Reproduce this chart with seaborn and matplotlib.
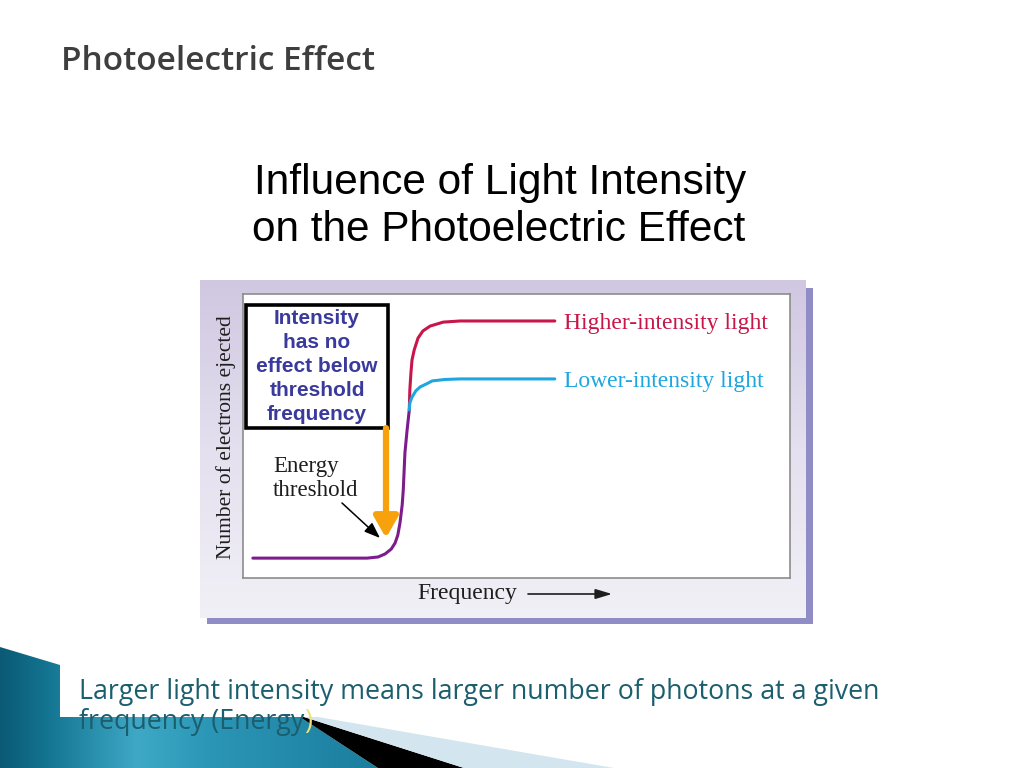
"""Photoelectric effect slide: influence of light intensity"""
import numpy as np
import matplotlib
matplotlib.use("Agg")
import matplotlib.pyplot as plt
import seaborn as sns
from matplotlib.patches import Rectangle, Polygon
from matplotlib.colors import LinearSegmentedColormap

# curve points (frequency, electrons ejected), 0-100 scale
base_x = [1.8, 10.4, 19.6, 22.7, 24.7, 26.0, 27.1, 27.8, 28.3, 28.7, 29.1, 29.3, 29.6, 30.0, 30.4]
base_y = [7.0, 7.0, 7.0, 7.0, 7.4, 8.5, 10.2, 12.3, 15.1, 19.4, 25.7, 31.0, 44.0, 52.1, 59.2]
high_x = [30.4, 30.5, 30.7, 30.9, 31.3, 32.0, 32.9, 34.2, 36.6, 39.7, 47.0, 57.0]
high_y = [59.2, 66.2, 72.2, 76.8, 80.3, 84.5, 87.0, 88.7, 90.1, 90.5, 90.5, 90.5]
low_x = [30.4, 30.5, 30.9, 31.6, 32.4, 33.5, 34.6, 36.9, 39.7, 57.0]
low_y = [59.2, 61.6, 63.7, 65.9, 67.3, 68.3, 69.4, 69.9, 70.1, 70.1]

curve_labels = ["Higher-intensity light", "Lower-intensity light"]
box_lines = ["Intensity", "has no", "effect below", "threshold", "frequency"]
slide_title = "Photoelectric Effect"
chart_title = ["Influence of Light Intensity", "on the Photoelectric Effect"]
caption = ["Larger light intensity means larger number of photons at a given",
           "frequency (Energy"]

PURPLE = "#7d1c8c"
RED = "#c8164a"
BLUE = "#1ea6e0"
TEAL_TXT = "#1b5e6e"
SERIF = ["Liberation Serif", "DejaVu Serif"]
SANS = ["Liberation Sans", "DejaVu Sans"]

sns.set_style("white")
plt.rcParams["font.family"] = ["Open Sans", "DejaVu Sans"]

W, H = 1024, 768
fig = plt.figure(figsize=(W / 100, H / 100), dpi=100)

# background layer in pixel coordinates
bg = fig.add_axes([0, 0, 1, 1], zorder=0)
bg.set_axis_off()

# slide title
bg.text(61, 62, slide_title, ha="left", va="center", fontsize=24,
        fontweight="semibold", color="#3e3e3e",
        family=["Open Sans", "DejaVu Sans"])

# chart title
bg.text(500, 183, chart_title[0], ha="center", va="center", fontsize=30.5,
        color="black", family=SANS)
bg.text(499, 230, chart_title[1], ha="center", va="center", fontsize=30.5,
        color="black", family=SANS)

# panel shadow + gradient panel
bg.add_patch(Rectangle((207, 288), 606, 336, fc="#8f8cc6", ec="none", zorder=1))
pcm = LinearSegmentedColormap.from_list("panel", ["#d0c7e1", "#e4e0ef", "#f1f0f6"])
bg.imshow(np.linspace(0, 1, 256).reshape(-1, 1), cmap=pcm, aspect="auto",
          extent=(200, 806, 618, 280), zorder=2)

# y label and frequency label with arrow
bg.text(226, 437, "Number of electrons ejected", rotation=90, ha="center",
        va="center", fontsize=15.5, color="#1e1e1e", family=SERIF, zorder=3)
bg.text(417, 594, "Frequency", ha="left", va="center", fontsize=17,
        color="#1e1e1e", family=SERIF, zorder=3)
bg.annotate("", xy=(612, 594), xytext=(528, 594), zorder=3,
            arrowprops=dict(arrowstyle="-|>,head_width=0.3,head_length=1.0",
                            color="#1e1e1e", lw=1.2, shrinkA=0, shrinkB=0,
                            mutation_scale=10))

# bottom-left decoration
teal = Polygon([(0, 647), (60, 665), (60, 717), (300, 717), (378, 768), (0, 768)],
               closed=True, fc="none", ec="none")
bg.add_patch(teal)
tcm = LinearSegmentedColormap.from_list(
    "teal", [(0, "#0a5a75"), (0.12, "#137591"), (0.35, "#3ea8c6"),
             (0.55, "#2b95b6"), (1, "#1a7c9c")])
im = bg.imshow(np.linspace(0, 1, 256).reshape(1, -1), cmap=tcm, aspect="auto",
               extent=(0, 390, 768, 645), zorder=2)
im.set_clip_path(teal)
bg.add_patch(Polygon([(300, 717), (378, 768), (464, 768), (304, 717)],
                     closed=True, fc="black", ec="none", zorder=3))
bg.add_patch(Polygon([(304, 717), (464, 768), (614, 768), (318, 717)],
                     closed=True, fc="#d3e5ee", ec="none", zorder=3))

# caption
bg.text(79, 692, caption[0], ha="left", va="center", fontsize=19.3,
        color=TEAL_TXT, zorder=5)
t2 = bg.text(79, 722, caption[1], ha="left", va="center", fontsize=19.3,
             color=TEAL_TXT, zorder=5)
bg.annotate(")", xy=(1, 0.5), xycoords=t2, ha="left", va="center",
            fontsize=19.3, color="#ece27a", zorder=5)

bg.set_xlim(0, W)
bg.set_ylim(H, 0)

# plot area
ax = fig.add_axes([243 / W, 1 - 578 / H, 547 / W, 284 / H], zorder=2)
ax.set_facecolor("white")
sns.lineplot(x=base_x, y=base_y, ax=ax, color=PURPLE, lw=2.2,
             estimator=None, sort=False)
sns.lineplot(x=high_x, y=high_y, ax=ax, color=RED, lw=2.2,
             estimator=None, sort=False)
sns.lineplot(x=low_x, y=low_y, ax=ax, color=BLUE, lw=2.2,
             estimator=None, sort=False)
ax.set_xlim(0, 100)
ax.set_ylim(0, 100)
ax.set_xticks([])
ax.set_yticks([])
ax.set_xlabel("")
ax.set_ylabel("")
for s in ax.spines.values():
    s.set_color("#8c8c8c")
    s.set_linewidth(1.2)

ax.annotate(curve_labels[0], xy=(high_x[-1], high_y[-1]), xytext=(6.5, 0),
            textcoords="offset points", ha="left", va="center_baseline",
            fontsize=17, color=RED, family=SERIF)
ax.annotate(curve_labels[1], xy=(low_x[-1], low_y[-1]), xytext=(6.5, 0),
            textcoords="offset points", ha="left", va="center_baseline",
            fontsize=17, color=BLUE, family=SERIF)

# overlay for callouts, pixel coordinates
ov = fig.add_axes([0, 0, 1, 1], zorder=3)
ov.set_axis_off()
ov.patch.set_alpha(0)
ov.set_xlim(0, W)
ov.set_ylim(H, 0)

ov.add_patch(Rectangle((246, 305), 142, 123, fc="white", ec="black", lw=2.6))
for i, line in enumerate(box_lines):
    ov.text(317, 318 + 24 * i, line, ha="center", va="center", fontsize=15,
            fontweight="bold", color="#3a3a9c", family=SANS)

ov.annotate("", xy=(386, 538), xytext=(386, 428),
            arrowprops=dict(arrowstyle="-|>,head_width=0.4,head_length=0.7",
                            color="#f7a20c", lw=4.5, shrinkA=0, shrinkB=0,
                            mutation_scale=18))
ov.text(273, 472, "Energy", ha="left", va="baseline", fontsize=16.5,
        color="#1e1e1e", family=SERIF)
ov.text(273, 496, "threshold", ha="left", va="baseline", fontsize=16.5,
        color="#1e1e1e", family=SERIF)
ov.annotate("", xy=(380, 538), xytext=(342, 503),
            arrowprops=dict(arrowstyle="-|>,head_width=0.3,head_length=0.8",
                            color="black", lw=1.1, shrinkA=0, shrinkB=0,
                            mutation_scale=12))

fig.savefig("out.png", dpi=100)
plt.close(fig)
